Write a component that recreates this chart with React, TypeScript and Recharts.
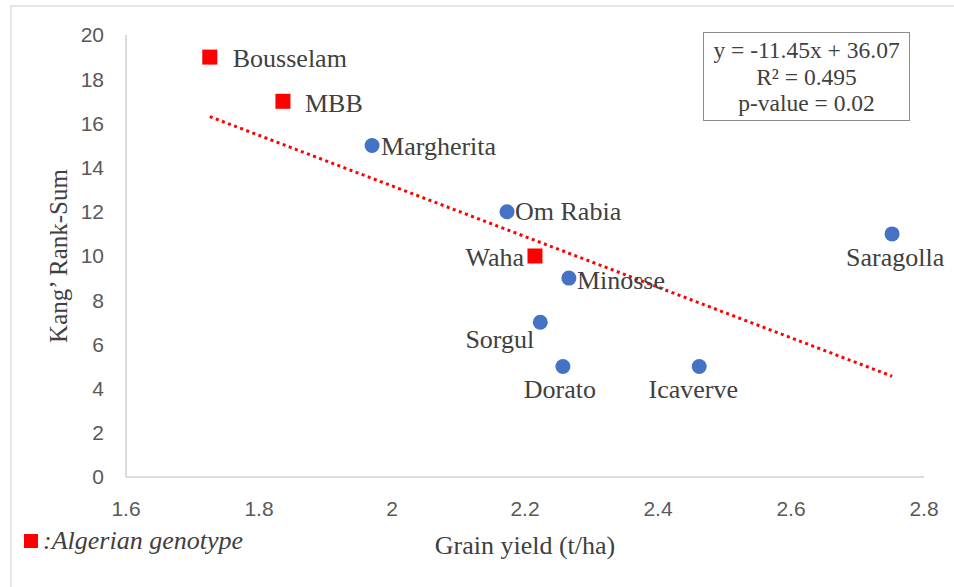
import React from 'react';
import { ScatterChart, Scatter, XAxis, YAxis, ReferenceLine, Legend } from 'recharts';

// genotypes and their values
const genotypes = ['Bousselam', 'MBB', 'Margherita', 'Om Rabia', 'Waha', 'Minosse', 'Sorgul', 'Dorato', 'Icaverve', 'Saragolla'];
const grainYield = [1.726, 1.836, 1.97, 2.173, 2.215, 2.266, 2.223, 2.257, 2.462, 2.752];
const rankSum = [19, 17, 15, 12, 10, 9, 7, 5, 5, 11];
const algerianGenotypes = ['Bousselam', 'MBB', 'Waha'];

const xTicks = [1.6, 1.8, 2, 2.2, 2.4, 2.6, 2.8];
const yTicks = [0, 2, 4, 6, 8, 10, 12, 14, 16, 18, 20];

// linear trend shown in the figure
const trendSlope = -11.45;
const trendIntercept = 36.07;
const rSquared = 0.495;
const pValue = 0.02;

const BLUE = '#4472C4';
const RED = '#FF0000';
const SERIF = '"Liberation Serif", "Times New Roman", serif';
const SANS = '"Liberation Sans", Arial, sans-serif';
const TEXT = '#404040';

// where each data label sits relative to its marker
const labelPlacement: Record<string, { anchor: 'start' | 'middle' | 'end'; dx: number; dy: number }> = {
  Bousselam: { anchor: 'start', dx: 23, dy: 1 },
  MBB: { anchor: 'start', dx: 22, dy: 2 },
  Margherita: { anchor: 'start', dx: 9, dy: 1 },
  'Om Rabia': { anchor: 'start', dx: 8, dy: 0 },
  Waha: { anchor: 'end', dx: -11, dy: 1 },
  Minosse: { anchor: 'start', dx: 8, dy: 2 },
  Sorgul: { anchor: 'end', dx: -6, dy: 17 },
  Dorato: { anchor: 'middle', dx: -3, dy: 23 },
  Icaverve: { anchor: 'middle', dx: -6, dy: 23 },
  Saragolla: { anchor: 'middle', dx: 3, dy: 24 },
};

const points = genotypes.map((name, i) => ({ name, x: grainYield[i], y: rankSum[i] }));
const algerianData = points.filter((p) => algerianGenotypes.includes(p.name));
const otherData = points.filter((p) => !algerianGenotypes.includes(p.name));

const minX = Math.min(...grainYield);
const maxX = Math.max(...grainYield);
const trendSegment = [
  { x: minX, y: trendSlope * minX + trendIntercept },
  { x: maxX, y: trendSlope * maxX + trendIntercept },
];

const renderPoint = (kind: 'square' | 'circle') => (props: any) => {
  const { cx, cy, payload } = props;
  const p = labelPlacement[payload.name];
  return (
    <g>
      {kind === 'square' ? (
        <rect x={cx - 7.5} y={cy - 7.5} width={15} height={15} fill={RED} />
      ) : (
        <circle cx={cx} cy={cy} r={7.5} fill={BLUE} />
      )}
      <text
        x={cx + p.dx}
        y={cy + p.dy}
        textAnchor={p.anchor}
        dominantBaseline="central"
        fontFamily={SERIF}
        fontSize={26}
        fill={TEXT}
      >
        {payload.name}
      </text>
    </g>
  );
};

const YTitle = (props: any) => {
  const { viewBox } = props;
  const x = viewBox.x + 58;
  const y = viewBox.y + viewBox.height / 2;
  return (
    <text x={x} y={y} transform={`rotate(-90, ${x}, ${y})`} textAnchor="middle" dominantBaseline="central"
      fontFamily={SERIF} fontSize={25} fill={TEXT}>
      Kang’ Rank-Sum
    </text>
  );
};

const XTitle = (props: any) => {
  const { viewBox } = props;
  return (
    <text x={viewBox.x + viewBox.width / 2} y={viewBox.y + 68} textAnchor="middle" dominantBaseline="central"
      fontFamily={SERIF} fontSize={26} fill={TEXT}>
      Grain yield (t/ha)
    </text>
  );
};

const LegendContent = () => (
  <div style={{ display: 'flex', alignItems: 'center', fontFamily: SERIF, fontSize: 26, fontStyle: 'italic', color: TEXT }}>
    <span style={{ display: 'inline-block', width: 14, height: 14, background: RED, marginRight: 5 }} />
    <span>:Algerian genotype</span>
  </div>
);

const tickStyle = { fill: '#595959', fontSize: 21, fontFamily: SANS };
const axisLine = { stroke: '#D0D0D0', strokeWidth: 1.5 };

export default function App() {
  return (
    <div style={{ position: 'absolute', left: 0, top: 0, width: 954, height: 587, overflow: 'hidden', background: '#fff' }}>
      <div style={{ position: 'absolute', left: 10, top: 5, width: 1000, height: 1000, border: '2px solid #E6E6E6' }} />
      <div style={{ position: 'absolute', left: 0, top: 0 }}>
        <ScatterChart width={954} height={587} margin={{ top: 35, right: 30, bottom: 0, left: 0 }}>
          <XAxis
            type="number"
            dataKey="x"
            domain={[1.6, 2.8]}
            ticks={xTicks}
            tickFormatter={(v) => String(v)}
            axisLine={axisLine}
            tickLine={false}
            tickSize={0}
            tickMargin={24}
            tick={tickStyle}
            height={110}
            label={<XTitle />}
          />
          <YAxis
            type="number"
            dataKey="y"
            domain={[0, 20]}
            ticks={yTicks}
            axisLine={axisLine}
            tickLine={false}
            tickSize={0}
            tickMargin={22}
            tick={tickStyle}
            width={126}
            label={<YTitle />}
          />
          <ReferenceLine
            segment={trendSegment}
            stroke={RED}
            strokeWidth={3}
            strokeDasharray="3 3.5"
          />
          <Scatter data={otherData} shape={renderPoint('circle')} isAnimationActive={false} />
          <Scatter data={algerianData} shape={renderPoint('square')} isAnimationActive={false} />
          <Legend
            verticalAlign="middle"
            align="center"
            content={<LegendContent />}
            wrapperStyle={{ position: 'absolute', left: 24, top: 526, width: 'auto' }}
          />
        </ScatterChart>
      </div>
      <div
        style={{
          position: 'absolute',
          left: 703,
          top: 32,
          width: 205,
          border: '1.5px solid #8C8C8C',
          padding: '4px 0 3px',
          fontFamily: SERIF,
          fontSize: 23.5,
          lineHeight: '26.5px',
          color: TEXT,
          textAlign: 'center',
        }}
      >
        <div>y = {trendSlope}x + {trendIntercept}</div>
        <div>R² = {rSquared}</div>
        <div>p-value = {pValue}</div>
      </div>
    </div>
  );
}
